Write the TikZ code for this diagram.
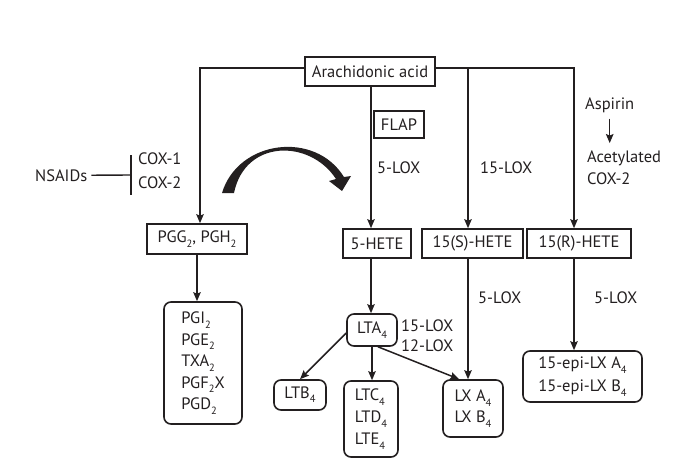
\documentclass[tikz,border=0pt]{standalone}
\usepackage{fontspec}
\setmainfont{PT Sans}
\usetikzlibrary{arrows.meta,calc}
\definecolor{ink}{HTML}{231F20}
\newcommand\sbs[1]{\raisebox{-4.3pt}{\fontsize{10.5}{10.5}\selectfont #1}}
\begin{document}
\begin{tikzpicture}[x=1pt,y=-1pt,
  every node/.style={font=\fontsize{16.5}{21.5}\selectfont, text=ink},
  box/.style={draw=ink, line width=1.6pt, inner sep=0pt, align=center},
  rbox/.style={box, rounded corners=7pt},
  arr/.style={draw=ink, line width=1.5pt, -{Stealth[length=9pt,width=7.5pt,inset=1.5pt]}},
  lbl/.style={inner sep=0pt, anchor=base west}]
\useasboundingbox (0,0) rectangle (685,471);
% boxes
\node[box, minimum width=130pt, minimum height=29pt] (aa) at (370,71.5) {Arachidonic acid};
\node[box, minimum width=50pt, minimum height=27pt] (flap) at (399,124.5) {FLAP};
\node[box, minimum width=100pt, minimum height=30pt] (pgg) at (197,239) {PGG\sbs{2}, PGH\sbs{2}};
\node[box, minimum width=68pt, minimum height=29pt] (h5) at (377,243.5) {5-HETE};
\node[box, minimum width=101pt, minimum height=29pt] (h15s) at (472.5,243.5) {15(S)-HETE};
\node[box, minimum width=104pt, minimum height=29pt] (h15r) at (579,243.5) {15(R)-HETE};
\node[rbox, minimum width=78pt, minimum height=122pt, align=left] (pg) at (203,363) {PGI\sbs{2}\\PGE\sbs{2}\\TXA\sbs{2}\\PGF\sbs{2}X\\PGD\sbs{2}};
\node[rbox, minimum width=50pt, minimum height=32pt] (lta) at (372,330) {LTA\sbs{4}};
\node[rbox, minimum width=52pt, minimum height=30pt] (ltb) at (300,395) {LTB\sbs{4}};
\node[rbox, minimum width=54pt, minimum height=76pt, align=left, font=\fontsize{16.5}{22}\selectfont] (ltc) at (371,419) {LTC\sbs{4}\\LTD\sbs{4}\\LTE\sbs{4}};
\node[rbox, minimum width=60pt, minimum height=57pt, align=left, font=\fontsize{16.5}{21}\selectfont] (lxa) at (473,408.5) {LX A\sbs{4}\\LX B\sbs{4}};
\node[rbox, minimum width=119pt, minimum height=51pt, align=left, font=\fontsize{16.5}{23}\selectfont] (epi) at (582.5,376.5) {15-epi-LX A\sbs{4}\\15-epi-LX B\sbs{4}};
% labels
\node[lbl] (nsaid) at (35,181) {NSAIDs};
\node[lbl] (cox1) at (138,164) {COX-1};
\node[lbl] (cox2) at (138,188) {COX-2};
\node[lbl] (lox5a) at (377,173) {5-LOX};
\node[lbl] (lox15) at (480,173) {15-LOX};
\node[lbl] (asp) at (585,109) {Aspirin};
\node[lbl] (acet1) at (587,162) {Acetylated};
\node[lbl] (acet2) at (587,184) {COX-2};
\node[lbl] (lox5b) at (478,303) {5-LOX};
\node[lbl] (lox5c) at (594,303) {5-LOX};
\node[lbl] (lox15b) at (401,331) {15-LOX};
\node[lbl] (lox12) at (401,351) {12-LOX};
% coordinates
\coordinate (tl) at ([yshift=3.5pt]aa.west);
\coordinate (tr) at ([yshift=3.5pt]aa.east);
\coordinate (bp) at ([xshift=3pt]pgg.north);
\coordinate (b5) at ([xshift=-6pt]h5.north);
\coordinate (b15s) at ([xshift=-4.5pt]h15s.north);
\coordinate (b15r) at ([xshift=-5pt]h15r.north);
\coordinate (bar) at (131,175);
% connectors
\draw[arr] (tl) -| (bp);
\draw[arr] (aa.south -| b5) -- (b5);
\draw[arr] (tr -| b15s) -- (b15s);
\draw[arr] (tr) -| (b15r);
\draw[arr] (pgg.south) -- (pgg.south |- pg.north);
\draw[arr] (b5 |- h5.south) -- (b5 |- lta.north);
\draw[arr] ([yshift=-3pt]lta.west) -- (ltb.north);
\draw[arr] (lta.south) -- (lta.south |- ltc.north);
\draw[arr] ([xshift=6pt]lta.south) -- ([xshift=17pt]lxa.north west);
\draw[arr] (b15s |- h15s.south) -- (b15s |- lxa.north);
\draw[arr] (b15r |- h15r.south) -- (b15r |- epi.north);
\draw[arr] ($(asp.south)+(0,6)$) -- ($(asp.south |- acet1.north)+(0,-7)$);
% inhibition
\draw[ink, line width=1.4pt] ([xshift=4pt]nsaid.east) -- (bar);
\draw[ink, line width=1.9pt] (bar) ++(0,-20) -- ++(0,40);
% curved arrow
\fill[ink] (222,193) .. controls (238,140) and (315,130) .. (344,177) -- (351,176) -- (342,191) -- (329,181) -- (336,179) .. controls (310,139) and (245,139) .. (234,193) -- cycle;
\end{tikzpicture}
\end{document}
